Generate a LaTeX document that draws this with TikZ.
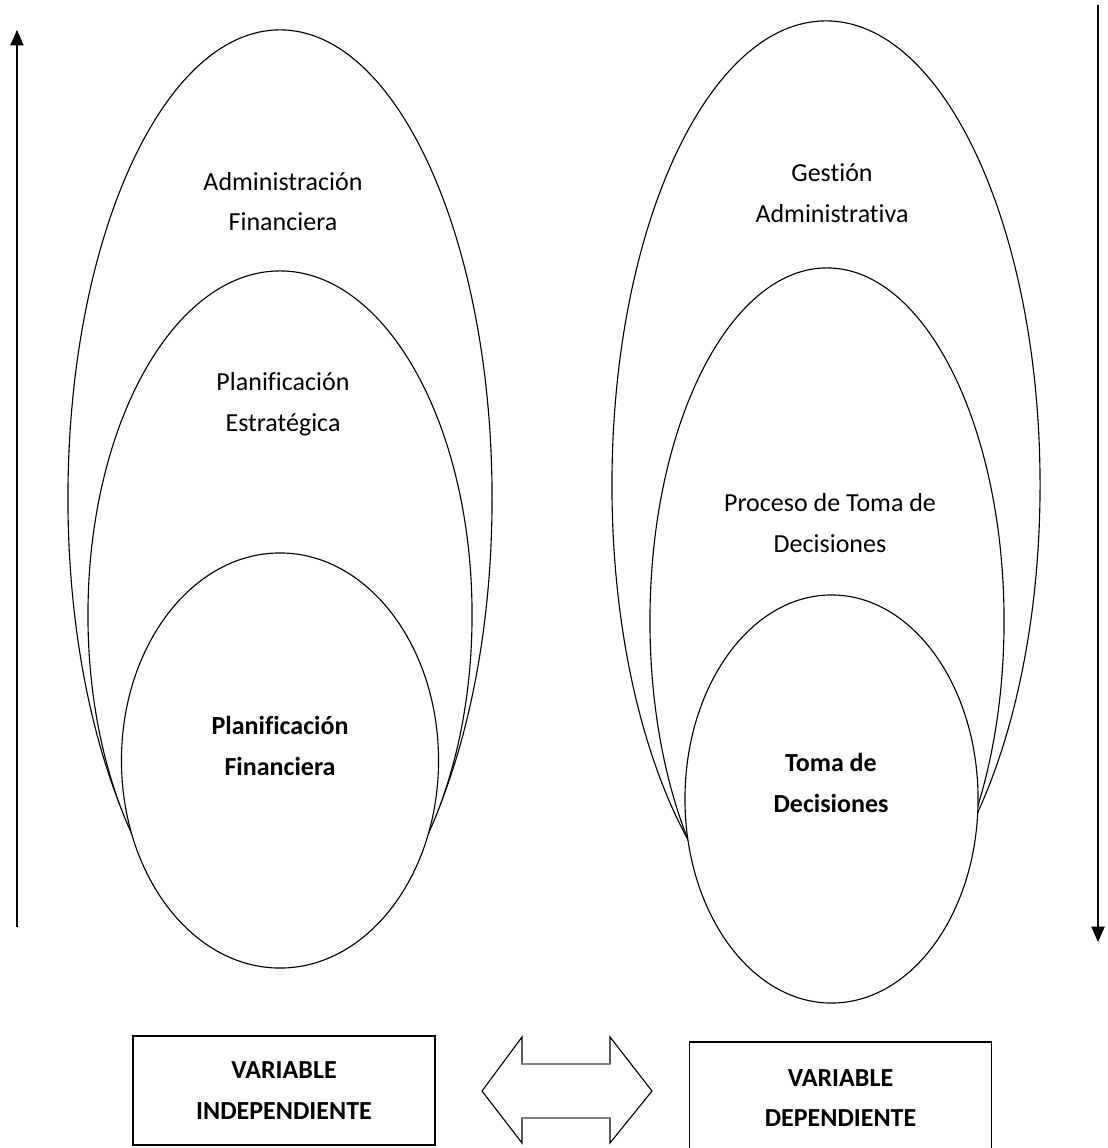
\documentclass[tikz,border=0pt]{standalone}
\usepackage{fontspec}
\setmainfont{Carlito}[Ligatures=NoCommon]
\usetikzlibrary{shapes.geometric, arrows.meta}

\begin{document}
\begin{tikzpicture}[x=0.025cm, y=-0.025cm, line width=0.8pt,
  capa/.style={draw, ellipse, fill=white, inner sep=0},
  etiqueta/.style={align=center, font=\fontsize{18.5}{29}\selectfont},
  caja/.style={draw, line width=1pt, align=center, minimum width=7.55cm, font=\bfseries\fontsize{18.5}{29}\selectfont},
  >={Triangle[length=11pt, width=9.5pt]}]
\useasboundingbox (0,0) rectangle (1108,1148);
% Variable independiente
\node[capa, minimum width=10.6cm, minimum height=23.4cm] (ad) at (280,498) {};
\node[capa, minimum width=9.6cm, minimum height=17.2cm] (pe) at (280,615) {};
\node[capa, minimum width=7.925cm, minimum height=10.375cm] (pf) at (280,760.5) {};
\node[etiqueta] (tad) at (283,201.5) {Administración\\Financiera};
\node[etiqueta] (tpe) at (283,404) {Planificación\\Estratégica};
\node[etiqueta, font=\bfseries\fontsize{18.5}{29}\selectfont] (tpf) at (280,746) {Planificación\\Financiera};
% Variable dependiente
\node[capa, minimum width=10.7cm, minimum height=23.2cm] (ga) at (826,485) {};
\node[capa, minimum width=8.85cm, minimum height=17.65cm] (pt) at (827,621) {};
\node[capa, minimum width=7.325cm, minimum height=10.2cm] (td) at (831.5,799) {};
\node[etiqueta] (tga) at (832,193) {Gestión\\Administrativa};
\node[etiqueta] (tpt) at (830,523) {Proceso de Toma de\\Decisiones};
\node[etiqueta, font=\bfseries\fontsize{18.5}{29}\selectfont] (ttd) at (831,783) {Toma de\\Decisiones};
% Boxes
\node[caja, minimum height=2.725cm] (vi) at (284,1090.5) {VARIABLE\\INDEPENDIENTE};
\node[caja, minimum height=2.8cm] (vd) at (840.5,1098) {VARIABLE\\DEPENDIENTE};
% Arrows
\coordinate (sube0) at (17,927);
\coordinate (sube1) at (17,30);
\coordinate (baja0) at (1098,5);
\coordinate (baja1) at (1098,942);
\draw[->] (sube0) -- (sube1);
\draw[->] (baja0) -- (baja1);
% Double arrow
\draw (482,1091) -- (522,1037) -- (522,1064) -- (610,1064) -- (610,1037) -- (652,1091)
  -- (610,1143) -- (610,1118) -- (522,1118) -- (522,1143) -- cycle;
\draw[gray, line width=1.4pt] (522,1064) -- (610,1064) (522,1118) -- (610,1118);
\end{tikzpicture}
\end{document}
